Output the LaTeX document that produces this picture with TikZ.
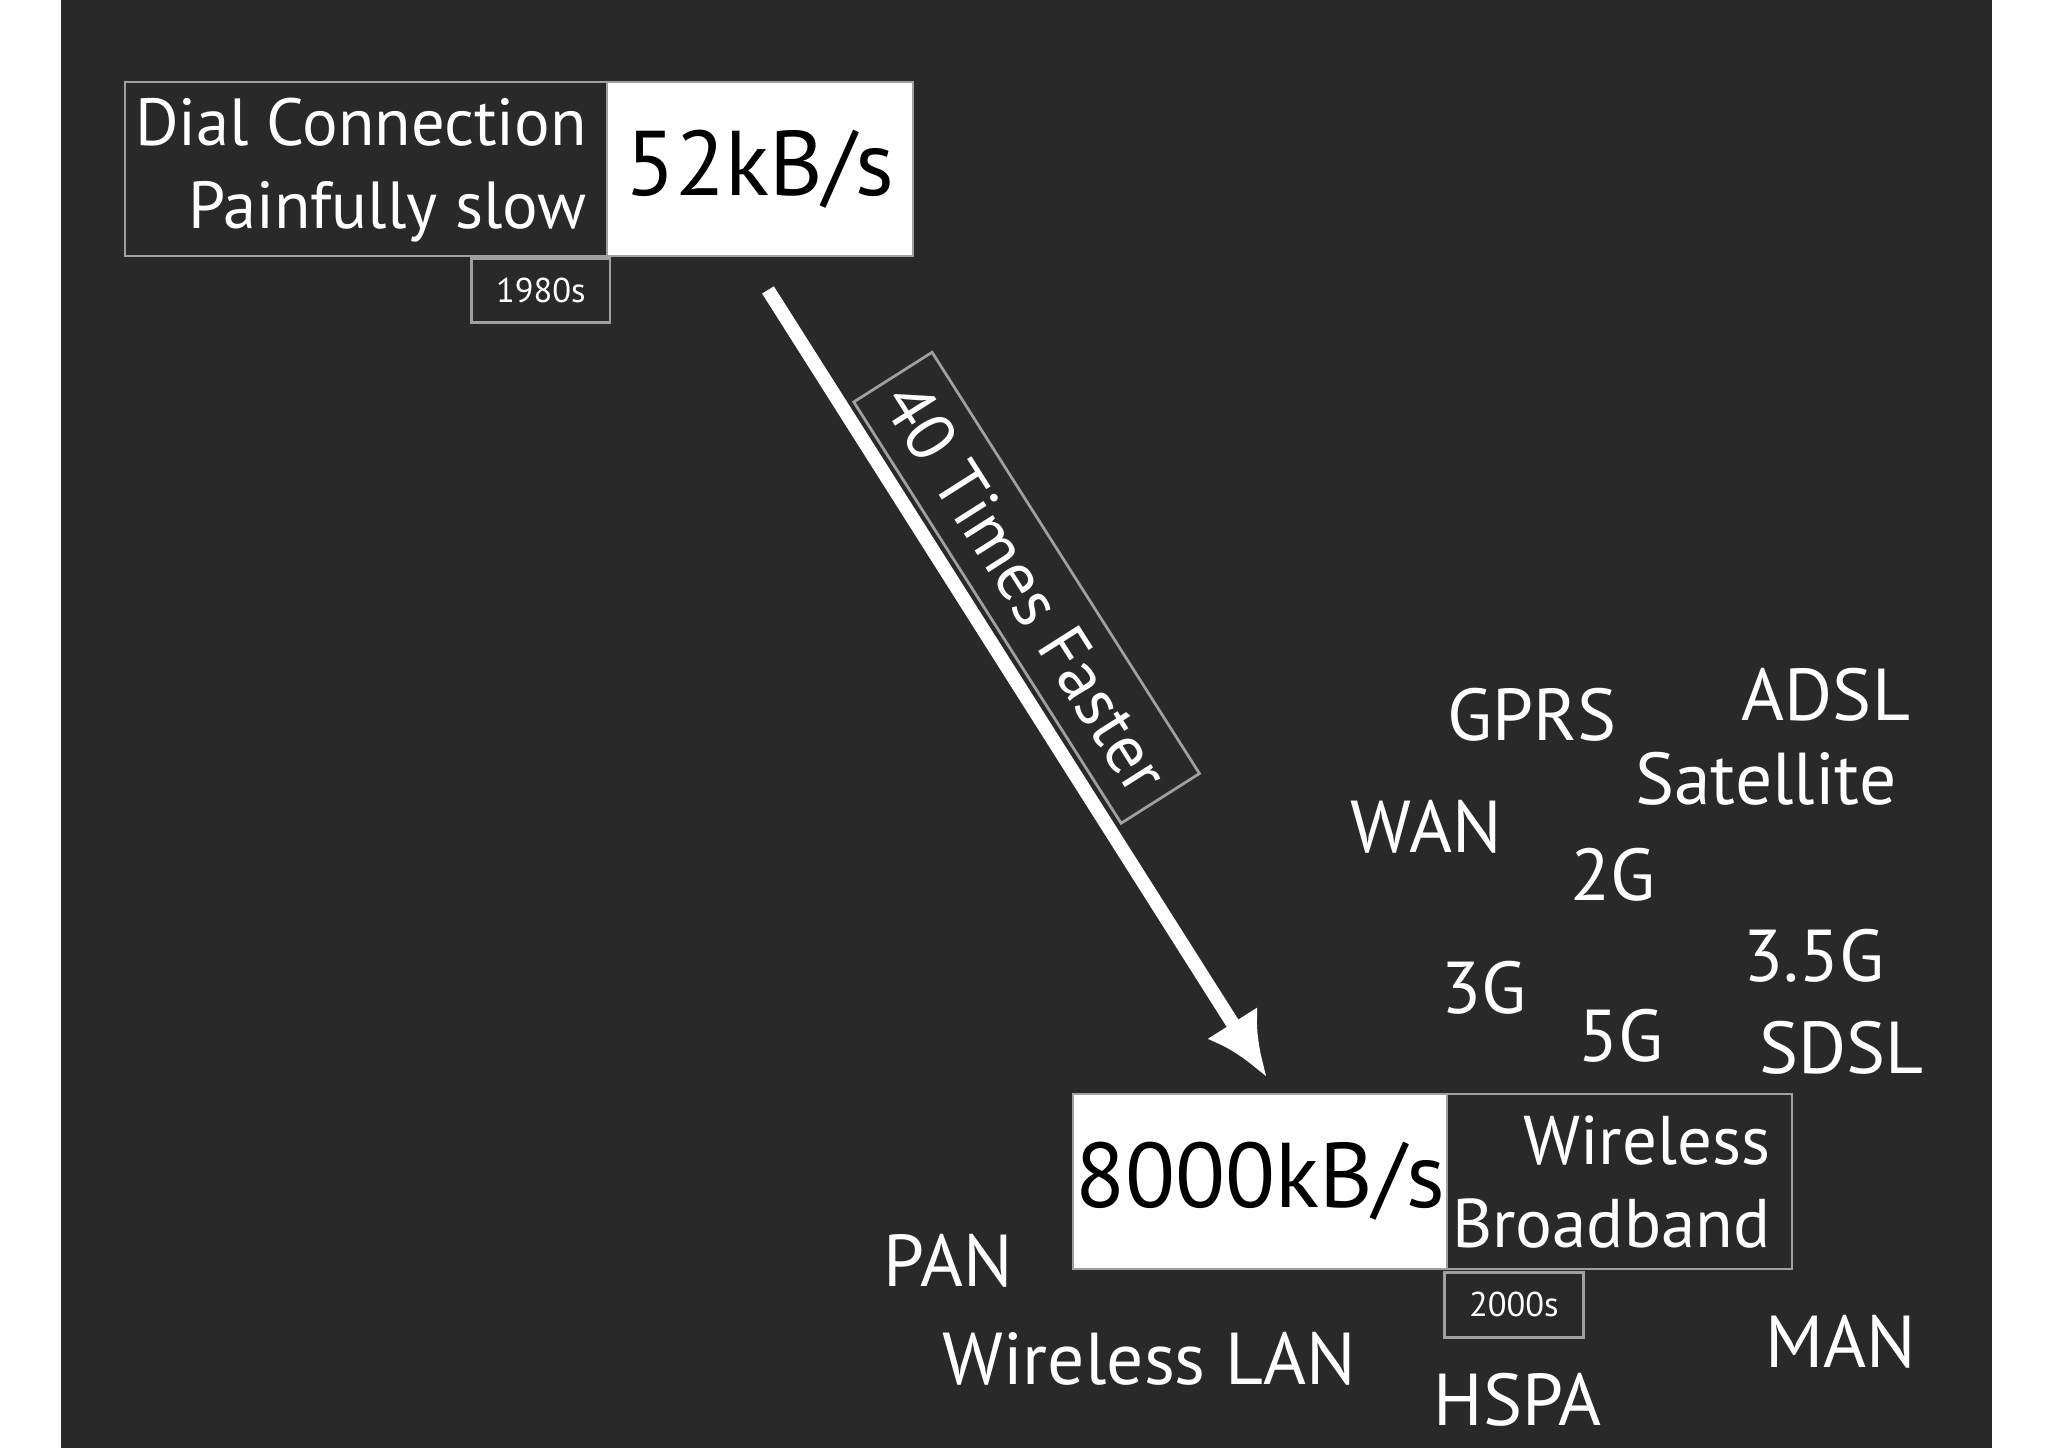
\documentclass[tikz,border=0pt]{standalone}
\usepackage{fontspec}
\setmainfont{PT Sans}
\usetikzlibrary{arrows.meta}
\definecolor{bg}{HTML}{292929}
\definecolor{ln}{HTML}{A0A0A0}
\begin{document}
\begin{tikzpicture}[x=0.01cm,y=-0.01cm,
  lbl/.style={text=white,font=\fontsize{16}{18}\selectfont,inner sep=0pt},
  yr/.style={draw=ln,line width=0.6pt,text=white,font=\fontsize{7.5}{9}\selectfont,inner sep=0pt}]
\useasboundingbox (0,0) rectangle (1568,1109);
\fill[white] (0,0) rectangle (1568,1109);
\fill[bg] (47,0) rectangle (1525,1109);
% top box
\node[draw=ln,fill=bg,minimum width=3.69cm,minimum height=1.33cm,anchor=north west,inner sep=0pt] (dial) at (95,62) {};
\node[draw=ln,fill=white,minimum width=2.34cm,minimum height=1.33cm,anchor=north west,inner sep=0pt] (s52) at (464,62) {\fontsize{20}{24}\selectfont 52kB/s};
\node[text=white,align=right,anchor=east,font=\fontsize{14.5}{18}\selectfont,inner sep=0pt] (dialt) at (450,130) {Dial Connection\\Painfully slow};
\node[yr,minimum width=1.06cm,minimum height=0.49cm,anchor=north west] (y1980) at (360,197) {1980s};
% bottom box
\node[draw=ln,fill=white,minimum width=2.86cm,minimum height=1.34cm,anchor=north west,inner sep=0pt] (s8000) at (821,837) {\fontsize{20}{24}\selectfont 8000kB/s};
\node[draw=ln,fill=bg,minimum width=2.64cm,minimum height=1.34cm,anchor=north west,inner sep=0pt] (wb) at (1107,837) {};
\node[text=white,align=right,anchor=east,font=\fontsize{15}{18}\selectfont,inner sep=0pt] (wbt) at (1356,905) {Wireless\\Broadband};
\node[yr,minimum width=1.06cm,minimum height=0.50cm,anchor=north west] (y2000) at (1105,973) {2000s};
% arrow
\coordinate (a1) at (588,222);
\coordinate (a2) at (970,825);
\draw[white,line width=3pt,-{Latex[length=14pt,width=13pt]}] (a1) -- (a2);
\node[draw=ln,line width=0.6pt,rotate=-57.6,minimum width=3.78cm,minimum height=0.71cm,text=white,font=\fontsize{15}{18}\selectfont] (fast) at (786,450) {40 Times Faster};
% labels
\node[lbl] (gprs) at (1173,547) {GPRS};
\node[lbl] (adsl) at (1398,532) {ADSL};
\node[lbl] (sat) at (1352,596) {Satellite};
\node[lbl] (wan) at (1092,633) {WAN};
\node[lbl] (g2) at (1235,670) {2G};
\node[lbl] (g35) at (1389,732) {3.5G};
\node[lbl] (g3) at (1136,756) {3G};
\node[lbl] (g5) at (1241,793) {5G};
\node[lbl] (sdsl) at (1410,802) {SDSL};
\node[lbl] (pan) at (726,965) {PAN};
\node[lbl] (wlan) at (880,1040) {Wireless LAN};
\node[lbl] (hspa) at (1162,1072) {HSPA};
\node[lbl] (man) at (1409,1027) {MAN};
\end{tikzpicture}
\end{document}
